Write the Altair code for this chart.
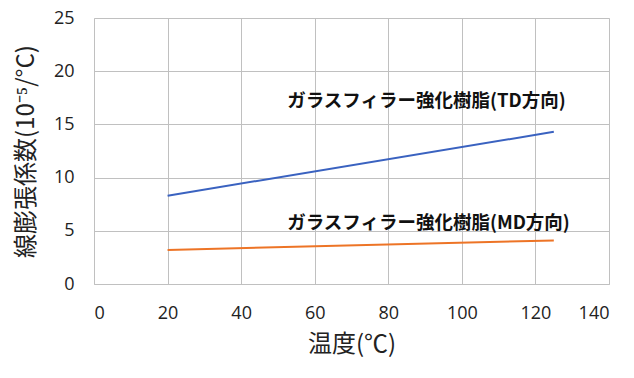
import altair as alt
import pandas as pd

temps = [20, 125]
td_values = [8.3, 14.3]
md_values = [3.2, 4.1]
series_names = ["ガラスフィラー強化樹脂(TD方向)", "ガラスフィラー強化樹脂(MD方向)"]
series_colors = ["#3a62c0", "#ed7426"]
label_x = [52.5, 52.5]
label_y = [17.2, 5.7]

rows = []
for t, v in zip(temps, td_values):
    rows.append({"temp": t, "val": v, "series": series_names[0]})
for t, v in zip(temps, md_values):
    rows.append({"temp": t, "val": v, "series": series_names[1]})
df = pd.DataFrame(rows)
lab = pd.DataFrame({"x": label_x, "y": label_y, "text": series_names})

FONT = "Noto Sans CJK JP"

xscale = alt.Scale(domain=[0, 140], nice=False)
yscale = alt.Scale(domain=[0, 25], nice=False)

lines = alt.Chart(df).mark_line(strokeWidth=2).encode(
    x=alt.X("temp:Q", scale=xscale,
            axis=alt.Axis(title="温度(℃)", values=list(range(0, 141, 20)),
                          labelOverlap=False, labelBound=False,
                          grid=True, gridColor="#c0c0c0", ticks=False, domainColor="#c0c0c0",
                          labelFontSize=18, labelPadding=20, labelColor="#222",
                          titleFontSize=24, titleFontWeight="normal", titlePadding=10,
                          titleColor="#222", labelFont="Open Sans", titleFont=FONT)),
    y=alt.Y("val:Q", scale=yscale,
            axis=alt.Axis(title="線膨張係数(10⁻⁵/°C)", values=list(range(0, 26, 5)),
                          labelOverlap=False,
                          grid=True, gridColor="#c0c0c0", ticks=False, domain=False,
                          labelFontSize=18, labelPadding=20, labelColor="#222",
                          titleFontSize=24, titleFontWeight="normal", titlePadding=15,
                          titleColor="#222", labelFont="Open Sans", titleFont=FONT)),
    color=alt.Color("series:N", scale=alt.Scale(domain=series_names, range=series_colors), legend=None),
)

texts = alt.Chart(lab).mark_text(align="left", baseline="middle", fontSize=18.5,
                                 fontWeight="bold", font=FONT, color="#111").encode(
    x=alt.X("x:Q", scale=xscale),
    y=alt.Y("y:Q", scale=yscale),
    text="text:N",
)

chart = (lines + texts).properties(
    width=515, height=266,
    autosize=alt.AutoSizeParams(type="none"),
    padding={"left": 94, "top": 18, "right": 25, "bottom": 94},
).configure_view(stroke="#c0c0c0").configure(background="white")

chart.save("out.html", embed_options={"renderer": "svg", "actions": False})
